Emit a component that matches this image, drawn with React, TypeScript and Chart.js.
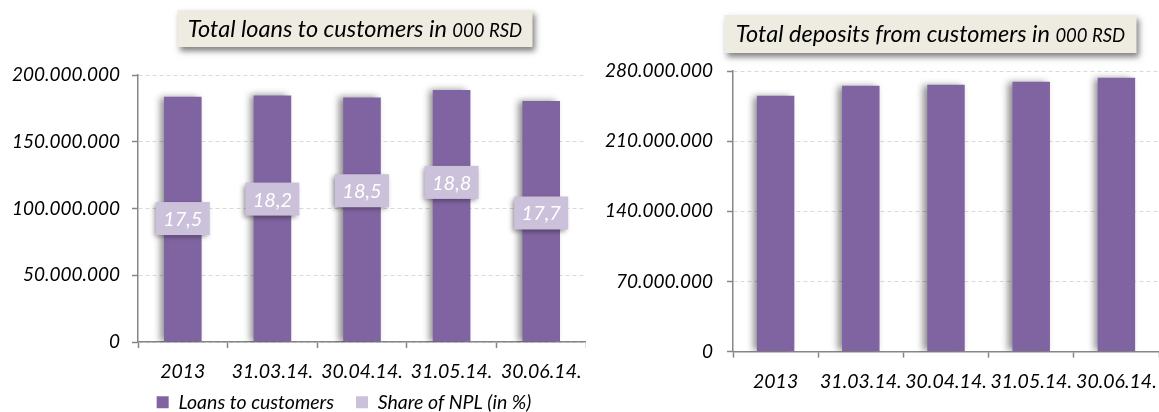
import React, { useEffect, useRef } from 'react';
import { Chart, registerables } from 'chart.js';

Chart.register(...registerables);

// ---- data ----
const categories = ['2013', '31.03.14.', '30.04.14.', '31.05.14.', '30.06.14.'];
const loans = [183700000, 184700000, 183200000, 188700000, 180500000];
const nplShare = [17.5, 18.2, 18.5, 18.8, 17.7];
const deposits = [255200000, 265200000, 266200000, 269200000, 273200000];
const loansTicks = [0, 50000000, 100000000, 150000000, 200000000];
const depositTicks = [0, 70000000, 140000000, 210000000, 280000000];
const loansTitle = ['Total loans to customers in ', '000 RSD'];
const depositsTitle = ['Total deposits from customers in ', '000 RSD'];
const seriesNames = ['Loans to customers', 'Share of NPL (in %)'];
const depositSeriesName = 'Deposits from customers';

// ---- styles ----
const PURPLE = '#8064A2';
const LAVENDER = '#CCC1DA';
const AXIS = '#868686';
const GRID = '#D9D9D9';
const FONT = 'Lato';

const fmt = (v: number) => String(Math.round(v)).replace(/\B(?=(\d{3})+(?!\d))/g, '.');

const barShadow = {
  id: 'barShadow',
  beforeDatasetDraw(chart: any, args: any) {
    if (args.meta.type !== 'bar') return;
    const ctx = chart.ctx;
    ctx.save();
    ctx.shadowColor = 'rgba(0,0,0,0.45)';
    ctx.shadowBlur = 7;
    ctx.shadowOffsetX = -4;
    ctx.shadowOffsetY = 0;
  },
  afterDatasetDraw(chart: any, args: any) {
    if (args.meta.type !== 'bar') return;
    chart.ctx.restore();
  },
};

const nplLabels = {
  id: 'nplLabels',
  afterDatasetsDraw(chart: any) {
    const idx = chart.data.datasets.findIndex((d: any) => d.type === 'line');
    if (idx < 0) return;
    const meta = chart.getDatasetMeta(idx);
    const ds = chart.data.datasets[idx];
    const ctx = chart.ctx;
    meta.data.forEach((pt: any, i: number) => {
      const x = pt.x;
      const y = pt.y;
      const w = 54;
      const h = 33;
      ctx.save();
      ctx.shadowColor = 'rgba(0,0,0,0.4)';
      ctx.shadowBlur = 5;
      ctx.shadowOffsetX = -2;
      ctx.shadowOffsetY = 2;
      ctx.fillStyle = LAVENDER;
      ctx.fillRect(x - w / 2, y - h / 2, w, h);
      ctx.restore();
      ctx.save();
      ctx.fillStyle = '#FFFFFF';
      ctx.font = `italic 20px ${FONT}`;
      ctx.textAlign = 'center';
      ctx.textBaseline = 'middle';
      ctx.fillText(String(ds.data[i]).replace('.', ','), x, y + 1);
      ctx.restore();
    });
  },
};

const titleBox = {
  id: 'titleBox',
  afterDraw(chart: any, _args: any, opts: any) {
    if (!opts || !opts.parts) return;
    const { parts, cx, top, width, height } = opts;
    const ctx = chart.ctx;
    ctx.save();
    ctx.shadowColor = 'rgba(0,0,0,0.5)';
    ctx.shadowBlur = 6;
    ctx.shadowOffsetX = 2;
    ctx.shadowOffsetY = 4;
    ctx.fillStyle = '#EEECE1';
    ctx.fillRect(cx - width / 2, top, width, height);
    ctx.restore();
    ctx.save();
    const f1 = `italic 23.5px ${FONT}`;
    const f2 = `italic 18.5px ${FONT}`;
    ctx.font = f1;
    const w1 = ctx.measureText(parts[0]).width;
    ctx.font = f2;
    const w2 = ctx.measureText(parts[1]).width;
    let x = cx - (w1 + w2) / 2;
    const base = top + height / 2 + 8;
    ctx.fillStyle = '#000';
    ctx.textBaseline = 'alphabetic';
    ctx.textAlign = 'left';
    ctx.font = f1;
    ctx.fillText(parts[0], x, base);
    x += w1;
    ctx.font = f2;
    ctx.fillText(parts[1], x, base);
    ctx.restore();
  },
};

// shifts the legend box after layout so it sits where the reference legend is
const legendShift = {
  id: 'legendShift',
  afterLayout(chart: any, _args: any, opts: any) {
    const lg = chart.legend;
    if (!lg || !opts) return;
    const dx = opts.dx || 0;
    const dy = opts.dy || 0;
    lg.left += dx;
    lg.right += dx;
    lg.top += dy;
    lg.bottom += dy;
  },
};

const tickFont = { family: FONT, style: 'italic' as const, size: 19 };
const xFont = { family: FONT, style: 'italic' as const, size: 19.5 };

function xScale() {
  return {
    afterFit: (s: any) => {
      s.paddingLeft = 0;
      s.paddingRight = 0;
    },
    grid: {
      display: true,
      drawOnChartArea: false,
      drawTicks: true,
      tickLength: 6,
      tickColor: AXIS,
      tickWidth: 1.5,
      offset: true,
    },
    border: { display: true, color: AXIS, width: 1.5 },
    ticks: { color: '#000', font: xFont, padding: 12, maxRotation: 0, autoSkip: false },
  };
}

function yScale(tickVals: number[], width: number, pad: number) {
  return {
    min: tickVals[0],
    max: tickVals[tickVals.length - 1],
    afterBuildTicks: (s: any) => {
      s.ticks = tickVals.map((v) => ({ value: v }));
    },
    afterFit: (s: any) => {
      s.width = width;
    },
    ticks: { color: '#000', font: tickFont, padding: pad, callback: (v: any) => fmt(Number(v)) },
    grid: {
      color: GRID,
      lineWidth: 1,
      drawTicks: true,
      tickLength: 6,
      tickColor: AXIS,
      tickWidth: 1.5,
      tickBorderDash: [],
    },
    border: { display: true, color: AXIS, width: 1.5, dash: [4, 3] },
  };
}

function LoansChart() {
  const ref = useRef<HTMLCanvasElement | null>(null);
  useEffect(() => {
    if (!ref.current) return;
    const chart = new Chart(ref.current, {
      type: 'bar',
      data: {
        labels: categories,
        datasets: [
          {
            type: 'bar',
            label: seriesNames[0],
            data: loans,
            backgroundColor: PURPLE,
            borderWidth: 0,
            barPercentage: 0.42,
            categoryPercentage: 1,
            yAxisID: 'y',
          },
          {
            type: 'line',
            label: seriesNames[1],
            data: nplShare,
            backgroundColor: LAVENDER,
            borderColor: LAVENDER,
            borderWidth: 0,
            showLine: false,
            pointRadius: 0,
            pointHoverRadius: 0,
            yAxisID: 'y2',
          },
        ],
      } as any,
      options: {
        responsive: false,
        animation: false,
        layout: { padding: { left: 0, top: 75, right: 0, bottom: -35 } },
        scales: {
          x: xScale(),
          y: yScale(loansTicks, 138, 12),
          y2: { display: false, min: 13.06, max: 22.66 },
        } as any,
        plugins: {
          legend: {
            position: 'bottom',
            fullSize: false,
            labels: {
              boxWidth: 12,
              boxHeight: 12,
              color: '#000',
              font: { family: FONT, style: 'italic', size: 19.5 },
              padding: 22,
            },
          },
          tooltip: { enabled: false },
          legendShift: { dx: -18, dy: -25 },
          titleBox: { parts: loansTitle, cx: 355, top: 10, width: 355, height: 37 },
        } as any,
      },
      plugins: [barShadow, nplLabels, titleBox, legendShift],
    });
    return () => chart.destroy();
  }, []);
  return <canvas ref={ref} width={586} height={412} style={{ position: 'absolute', left: 0, top: 0 }} />;
}

function DepositsChart() {
  const ref = useRef<HTMLCanvasElement | null>(null);
  useEffect(() => {
    if (!ref.current) return;
    const chart = new Chart(ref.current, {
      type: 'bar',
      data: {
        labels: categories,
        datasets: [
          {
            label: depositSeriesName,
            data: deposits,
            backgroundColor: PURPLE,
            borderWidth: 0,
            barPercentage: 0.44,
            categoryPercentage: 1,
          },
        ],
      },
      options: {
        responsive: false,
        animation: false,
        layout: { padding: { left: 0, top: 71, right: 0, bottom: 7 } },
        scales: {
          x: xScale(),
          y: yScale(depositTicks, 148, 14),
        } as any,
        plugins: {
          legend: { display: false },
          tooltip: { enabled: false },
          titleBox: { parts: depositsTitle, cx: 345.5, top: 15, width: 412, height: 38 },
        } as any,
      },
      plugins: [barShadow, titleBox],
    });
    return () => chart.destroy();
  }, []);
  return <canvas ref={ref} width={574} height={412} style={{ position: 'absolute', left: 585, top: 0 }} />;
}

export default function App() {
  return (
    <div style={{ position: 'absolute', left: 0, top: 0, width: 1159, height: 412, background: '#fff', overflow: 'hidden' }}>
      <LoansChart />
      <DepositsChart />
    </div>
  );
}
